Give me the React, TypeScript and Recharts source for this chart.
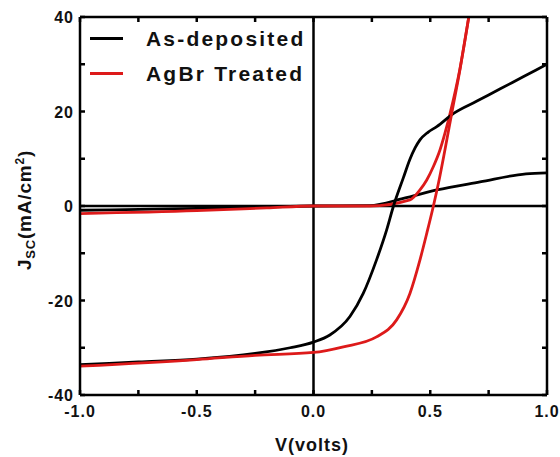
import { LineChart, Line, XAxis, YAxis, ReferenceLine } from 'recharts';

// J-V curves (V in volts, J in mA/cm2)
const asDepIllumV = [-1.0, -0.75, -0.5, -0.25, -0.1, 0.0, 0.07, 0.156, 0.213, 0.27, 0.313, 0.342, 0.385, 0.413, 0.435, 0.456, 0.49, 0.528, 0.6, 0.7, 0.8, 0.9, 1.0];
const asDepIllumJ = [-33.6, -33.0, -32.4, -31.2, -30.0, -28.8, -27.3, -23.4, -18.5, -11.4, -5.1, -0.1, 6.0, 9.9, 12.3, 14.0, 15.6, 16.8, 19.6, 22.2, 24.8, 27.4, 30.0];

const asDepDarkV = [-1.0, -0.5, 0.0, 0.24, 0.385, 0.528, 0.713, 0.91, 1.0];
const asDepDarkJ = [-0.9, -0.5, 0.0, 0.1, 1.6, 3.4, 5.1, 6.8, 7.0];

const agbrIllumV = [-1.0, -0.5, -0.25, 0.0, 0.128, 0.27, 0.356, 0.413, 0.456, 0.485, 0.513, 0.535, 0.563, 0.592, 0.627, 0.665];
const agbrIllumJ = [-33.9, -32.5, -31.6, -31.0, -29.8, -27.7, -24.1, -18.5, -11.4, -5.8, -0.1, 4.8, 11.9, 19.6, 28.8, 40.0];

const agbrDarkV = [-1.0, -0.5, -0.2, 0.0, 0.24, 0.413, 0.456, 0.485, 0.513, 0.542, 0.563, 0.585, 0.627, 0.665];
const agbrDarkJ = [-1.6, -1.0, -0.4, 0.0, 0.0, 1.3, 3.4, 5.5, 8.3, 11.9, 15.4, 19.6, 29.0, 40.0];

const xTicks = [-1.0, -0.75, -0.5, -0.25, 0.0, 0.25, 0.5, 0.75, 1.0];
const yTicks = [-40, -30, -20, -10, 0, 10, 20, 30, 40];
const xMajor = [-1.0, -0.5, 0.0, 0.5, 1.0];
const yMajor = [-40, -20, 0, 20, 40];

const zip = (vs: number[], js: number[]) => vs.map((v, i) => ({ v, j: js[i] }));

const FONT = '"Liberation Sans", Arial, sans-serif';
const BLACK = '#000000';
const RED = '#dd1a1a';
const TICK = -5; // negative: ticks point into the plot

const BottomLabel = ({ x, y, payload }: any) =>
  xMajor.includes(payload.value) ? (
    <text x={x} y={y + 22} textAnchor="middle" fontSize={16} fontWeight="bold" fontFamily={FONT} letterSpacing={1} fill="#111">
      {payload.value.toFixed(1)}
    </text>
  ) : (
    <g />
  );

const LeftLabel = ({ x, y, payload }: any) =>
  yMajor.includes(payload.value) ? (
    <text x={x - 6} y={y + 6} textAnchor="end" fontSize={16} fontWeight="bold" fontFamily={FONT} letterSpacing={1} fill="#111">
      {payload.value}
    </text>
  ) : (
    <g />
  );

const NoLabel = () => <g />;

const axisLine = { stroke: '#000', strokeWidth: 2.5 };
const tickLine = { stroke: '#000', strokeWidth: 2.5 };

export default function App() {
  return (
    <div style={{ position: 'absolute', left: 0, top: 0, width: 560, height: 457, background: '#fff', fontFamily: FONT }}>
      <LineChart width={560} height={457} margin={{ top: 17, right: 13, left: 20, bottom: 32 }}>
        <XAxis
          xAxisId="b"
          type="number"
          dataKey="v"
          domain={[-1, 1]}
          allowDataOverflow
          ticks={xTicks}
          interval={0}
          tickSize={TICK}
          tickMargin={-TICK}
          tickLine={tickLine}
          tick={<BottomLabel />}
          axisLine={axisLine}
          height={30}
          label={{
            content: () => (
              <text x={312} y={451} textAnchor="middle" fontSize={18} fontWeight="bold" fontFamily={FONT} letterSpacing={1} fill="#111">
                V(volts)
              </text>
            ),
          }}
        />
        <XAxis
          xAxisId="t"
          orientation="top"
          mirror
          type="number"
          dataKey="v"
          domain={[-1, 1]}
          allowDataOverflow
          ticks={xTicks}
          interval={0}
          tickSize={5}
          tickMargin={0}
          tickLine={tickLine}
          tick={<NoLabel />}
          axisLine={axisLine}
          height={1}
        />
        <YAxis
          yAxisId="l"
          type="number"
          domain={[-40, 40]}
          allowDataOverflow
          ticks={yTicks}
          interval={0}
          tickSize={TICK}
          tickMargin={-TICK}
          tickLine={tickLine}
          tick={<LeftLabel />}
          axisLine={axisLine}
          width={60}
          label={{
            content: () => (
              <text x={31} y={210} transform="rotate(-90 31 210)" textAnchor="middle" fontSize={19} fontWeight="bold" fontFamily={FONT} letterSpacing={0.8} fill="#111">
                J<tspan fontSize={13} dy={4}>SC</tspan>
                <tspan dy={-4}>(mA/cm</tspan>
                <tspan fontSize={12} dy={-7}>2</tspan>
                <tspan dy={7}>)</tspan>
              </text>
            ),
          }}
        />
        <YAxis
          yAxisId="r"
          orientation="right"
          mirror
          type="number"
          domain={[-40, 40]}
          allowDataOverflow
          ticks={yTicks}
          interval={0}
          tickSize={5}
          tickMargin={0}
          tickLine={tickLine}
          tick={<NoLabel />}
          axisLine={axisLine}
          width={1}
        />
        <ReferenceLine xAxisId="b" yAxisId="l" x={0} stroke="#000" strokeWidth={2.5} />
        <ReferenceLine xAxisId="b" yAxisId="l" y={0} stroke="#000" strokeWidth={2.5} />
        {/* invisible copy so the top / right frame axes get a domain and draw their ticks */}
        <Line xAxisId="t" yAxisId="r" data={zip(asDepDarkV, asDepDarkJ)} dataKey="j" stroke="none" dot={false} activeDot={false} legendType="none" isAnimationActive={false} />
        <Line xAxisId="b" yAxisId="l" data={zip(asDepDarkV, asDepDarkJ)} dataKey="j" type="monotone" stroke={BLACK} strokeWidth={2.8} dot={false} isAnimationActive={false} />
        <Line xAxisId="b" yAxisId="l" data={zip(agbrDarkV, agbrDarkJ)} dataKey="j" type="monotone" stroke={RED} strokeWidth={2.8} dot={false} isAnimationActive={false} />
        <Line xAxisId="b" yAxisId="l" data={zip(asDepIllumV, asDepIllumJ)} dataKey="j" type="monotone" stroke={BLACK} strokeWidth={2.8} dot={false} isAnimationActive={false} />
        <Line xAxisId="b" yAxisId="l" data={zip(agbrIllumV, agbrIllumJ)} dataKey="j" type="monotone" stroke={RED} strokeWidth={2.8} dot={false} isAnimationActive={false} />
      </LineChart>
      <div style={{ position: 'absolute', left: 90, top: 21, fontSize: 21, fontWeight: 'bold', color: '#111', letterSpacing: 2.2, lineHeight: '35px' }}>
        <div style={{ display: 'flex', alignItems: 'center' }}>
          <span style={{ width: 33, height: 3, background: BLACK, marginRight: 23 }} />
          As-deposited
        </div>
        <div style={{ display: 'flex', alignItems: 'center' }}>
          <span style={{ width: 33, height: 3, background: RED, marginRight: 23 }} />
          AgBr Treated
        </div>
      </div>
    </div>
  );
}
